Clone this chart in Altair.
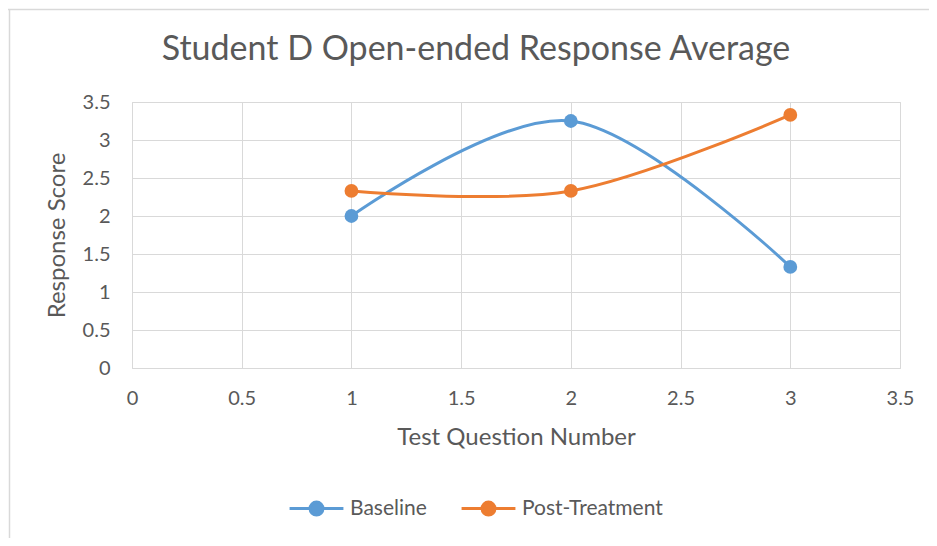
import altair as alt
import pandas as pd

questions = [1, 2, 3]
baseline = [2.0, 3.25, 1.33]
post_treatment = [2.33, 2.33, 3.33]
series_names = ["Baseline", "Post-Treatment"]
series_colors = ["#5b9bd5", "#ed7d31"]
tick_values = [0, 0.5, 1, 1.5, 2, 2.5, 3, 3.5]
title_text = "Student D Open-ended Response Average"

rows = []
for q, v in zip(questions, baseline):
    rows.append({"q": q, "score": v, "series": "Baseline"})
for q, v in zip(questions, post_treatment):
    rows.append({"q": q, "score": v, "series": "Post-Treatment"})
df = pd.DataFrame(rows)

FONT = "Lato"
TXT = "#595959"
GRID = "#d9d9d9"

x = alt.X("q:Q", scale=alt.Scale(domain=[0, 3.5], nice=False),
          axis=alt.Axis(values=tick_values, format="~g", title="Test Question Number",
                        grid=True, gridColor=GRID, domain=False, ticks=False,
                        labelFlush=False,
                        labelPadding=20, labelFontSize=20, labelColor=TXT, labelFont=FONT,
                        titleFontSize=24, titleColor=TXT, titleFont=FONT, titleFontWeight="normal",
                        titlePadding=17))
y = alt.Y("score:Q", scale=alt.Scale(domain=[0, 3.5], nice=False),
          axis=alt.Axis(values=tick_values, format="~g", title="Response Score",
                        grid=True, gridColor=GRID, domain=False, ticks=False,
                        labelFlush=False,
                        labelPadding=22, labelFontSize=20, labelColor=TXT, labelFont=FONT,
                        titleFontSize=24, titleColor=TXT, titleFont=FONT, titleFontWeight="normal",
                        titlePadding=13))

legend_symbol = ("M -1 0 L -0.24 0 M 0.24 0 L 1 0 "
                 "M -0.24 0 A 0.24 0.24 0 1 1 0.24 0 A 0.24 0.24 0 1 1 -0.24 0 Z")

legend = alt.Legend(title=None, orient="none", direction="horizontal",
                    legendX=156, legendY=378, padding=0,
                    symbolType=legend_symbol, symbolSize=2900,
                    symbolStrokeWidth=3, labelFontSize=21, labelColor=TXT,
                    labelFont=FONT, columnPadding=28, labelOffset=5)
color = alt.Color("series:N", scale=alt.Scale(domain=series_names, range=series_colors),
                  legend=legend)

frame = pd.DataFrame({"a": [0]})
top_border = alt.Chart(frame).mark_rule(color=GRID, strokeWidth=1.5, clip=False).encode(
    x=alt.value(-124), x2=alt.value(800), y=alt.value(-92.5))
left_border = alt.Chart(frame).mark_rule(color=GRID, strokeWidth=1.5, clip=False).encode(
    x=alt.value(-122.5), y=alt.value(-93), y2=alt.value(470))
title = alt.Chart(frame).mark_text(
    text=title_text, font=FONT, fontSize=34, color=TXT, align="center",
    baseline="alphabetic", clip=False
).encode(x=alt.value(344), y=alt.value(-42))

line = alt.Chart(df).mark_line(interpolate="cardinal", strokeWidth=3).encode(
    x=x, y=y, color=color)
points = alt.Chart(df).mark_point(filled=True, size=190, opacity=1).encode(
    x=x, y=y, color=color)

chart = alt.layer(top_border, left_border, title, line, points).properties(
    width=768, height=266,
    autosize=alt.AutoSizeParams(type="none"),
    padding={"left": 124, "top": 94, "right": 29, "bottom": 170},
).configure_view(stroke=GRID)

chart.save("out.html", embed_options={"renderer": "svg", "actions": False})
